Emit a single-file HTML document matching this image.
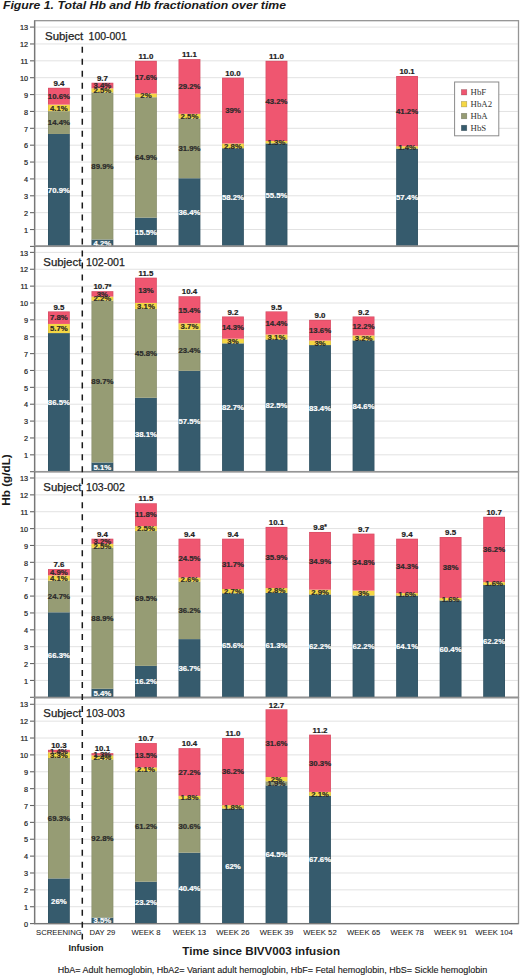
<!DOCTYPE html><html><head><meta charset="utf-8"><style>html,body{margin:0;padding:0;background:#fff;}svg{display:block}</style></head><body>
<svg width="520" height="975" viewBox="0 0 520 975" font-family="Liberation Sans, sans-serif">
<rect x="0" y="0" width="520" height="975" fill="#ffffff"/>
<text x="3" y="9.3" font-size="11" font-weight="bold" font-style="italic" fill="#1a1a1a" textLength="283" lengthAdjust="spacingAndGlyphs">Figure 1. Total Hb and Hb fractionation over time</text>
<line x1="35.3" y1="229.53" x2="517.8" y2="229.53" stroke="#e2e2e2" stroke-width="1"/>
<line x1="35.3" y1="212.66" x2="517.8" y2="212.66" stroke="#e2e2e2" stroke-width="1"/>
<line x1="35.3" y1="195.79" x2="517.8" y2="195.79" stroke="#e2e2e2" stroke-width="1"/>
<line x1="35.3" y1="178.92" x2="517.8" y2="178.92" stroke="#e2e2e2" stroke-width="1"/>
<line x1="35.3" y1="162.05" x2="517.8" y2="162.05" stroke="#e2e2e2" stroke-width="1"/>
<line x1="35.3" y1="145.18" x2="517.8" y2="145.18" stroke="#e2e2e2" stroke-width="1"/>
<line x1="35.3" y1="128.31" x2="517.8" y2="128.31" stroke="#e2e2e2" stroke-width="1"/>
<line x1="35.3" y1="111.44" x2="517.8" y2="111.44" stroke="#e2e2e2" stroke-width="1"/>
<line x1="35.3" y1="94.57" x2="517.8" y2="94.57" stroke="#e2e2e2" stroke-width="1"/>
<line x1="35.3" y1="77.7" x2="517.8" y2="77.7" stroke="#e2e2e2" stroke-width="1"/>
<line x1="35.3" y1="60.83" x2="517.8" y2="60.83" stroke="#e2e2e2" stroke-width="1"/>
<line x1="35.3" y1="43.96" x2="517.8" y2="43.96" stroke="#e2e2e2" stroke-width="1"/>
<line x1="35.3" y1="27.09" x2="517.8" y2="27.09" stroke="#e2e2e2" stroke-width="1"/>
<rect x="34.6" y="20.68" width="483.9" height="225.72" fill="none" stroke="#959595" stroke-width="1.3"/>
<line x1="30" y1="246.4" x2="34.6" y2="246.4" stroke="#666" stroke-width="1.1"/>
<line x1="30" y1="229.53" x2="34.6" y2="229.53" stroke="#666" stroke-width="1.1"/>
<text x="28" y="232.73" font-size="7.3" text-anchor="end" fill="#222" stroke="#222" stroke-width="0.2">1</text>
<line x1="30" y1="212.66" x2="34.6" y2="212.66" stroke="#666" stroke-width="1.1"/>
<text x="28" y="215.86" font-size="7.3" text-anchor="end" fill="#222" stroke="#222" stroke-width="0.2">2</text>
<line x1="30" y1="195.79" x2="34.6" y2="195.79" stroke="#666" stroke-width="1.1"/>
<text x="28" y="198.99" font-size="7.3" text-anchor="end" fill="#222" stroke="#222" stroke-width="0.2">3</text>
<line x1="30" y1="178.92" x2="34.6" y2="178.92" stroke="#666" stroke-width="1.1"/>
<text x="28" y="182.12" font-size="7.3" text-anchor="end" fill="#222" stroke="#222" stroke-width="0.2">4</text>
<line x1="30" y1="162.05" x2="34.6" y2="162.05" stroke="#666" stroke-width="1.1"/>
<text x="28" y="165.25" font-size="7.3" text-anchor="end" fill="#222" stroke="#222" stroke-width="0.2">5</text>
<line x1="30" y1="145.18" x2="34.6" y2="145.18" stroke="#666" stroke-width="1.1"/>
<text x="28" y="148.38" font-size="7.3" text-anchor="end" fill="#222" stroke="#222" stroke-width="0.2">6</text>
<line x1="30" y1="128.31" x2="34.6" y2="128.31" stroke="#666" stroke-width="1.1"/>
<text x="28" y="131.51" font-size="7.3" text-anchor="end" fill="#222" stroke="#222" stroke-width="0.2">7</text>
<line x1="30" y1="111.44" x2="34.6" y2="111.44" stroke="#666" stroke-width="1.1"/>
<text x="28" y="114.64" font-size="7.3" text-anchor="end" fill="#222" stroke="#222" stroke-width="0.2">8</text>
<line x1="30" y1="94.57" x2="34.6" y2="94.57" stroke="#666" stroke-width="1.1"/>
<text x="28" y="97.77" font-size="7.3" text-anchor="end" fill="#222" stroke="#222" stroke-width="0.2">9</text>
<line x1="30" y1="77.7" x2="34.6" y2="77.7" stroke="#666" stroke-width="1.1"/>
<text x="28" y="80.9" font-size="7.3" text-anchor="end" fill="#222" stroke="#222" stroke-width="0.2">10</text>
<line x1="30" y1="60.83" x2="34.6" y2="60.83" stroke="#666" stroke-width="1.1"/>
<text x="28" y="64.03" font-size="7.3" text-anchor="end" fill="#222" stroke="#222" stroke-width="0.2">11</text>
<line x1="30" y1="43.96" x2="34.6" y2="43.96" stroke="#666" stroke-width="1.1"/>
<text x="28" y="47.16" font-size="7.3" text-anchor="end" fill="#222" stroke="#222" stroke-width="0.2">12</text>
<line x1="30" y1="27.09" x2="34.6" y2="27.09" stroke="#666" stroke-width="1.1"/>
<text x="28" y="30.29" font-size="7.3" text-anchor="end" fill="#222" stroke="#222" stroke-width="0.2">13</text>
<text x="45.0" y="40.2" font-size="11.4" fill="#222" stroke="#222" stroke-width="0.25" textLength="38.2" lengthAdjust="spacingAndGlyphs">Subject</text>
<text x="88.6" y="40.2" font-size="11.4" fill="#222" stroke="#222" stroke-width="0.25" textLength="38.3" lengthAdjust="spacingAndGlyphs">100-001</text>
<rect x="48" y="133.97" width="21.8" height="112.43" fill="#365b6d"/>
<rect x="48" y="111.13" width="21.8" height="22.84" fill="#969c74"/>
<rect x="48" y="104.63" width="21.8" height="6.5" fill="#f5d744"/>
<rect x="48" y="87.82" width="21.8" height="16.81" fill="#ef5670"/>
<rect x="48.3" y="88.12" width="21.2" height="158.28" fill="none" stroke="rgba(0,0,0,0.12)" stroke-width="0.6"/>
<text x="58.9" y="86.02" font-size="7.9" font-weight="bold" text-anchor="middle" fill="#1a1a1a" stroke="#1a1a1a" stroke-width="0.2">9.4</text>
<rect x="91.52" y="239.53" width="21.8" height="6.87" fill="#365b6d"/>
<rect x="91.52" y="92.42" width="21.8" height="147.11" fill="#969c74"/>
<rect x="91.52" y="88.32" width="21.8" height="4.09" fill="#f5d744"/>
<rect x="91.52" y="82.76" width="21.8" height="5.56" fill="#ef5670"/>
<rect x="91.82" y="83.06" width="21.2" height="163.34" fill="none" stroke="rgba(0,0,0,0.12)" stroke-width="0.6"/>
<text x="102.42" y="80.96" font-size="7.9" font-weight="bold" text-anchor="middle" fill="#1a1a1a" stroke="#1a1a1a" stroke-width="0.2">9.7</text>
<rect x="135.04" y="217.64" width="21.8" height="28.76" fill="#365b6d"/>
<rect x="135.04" y="97.2" width="21.8" height="120.43" fill="#969c74"/>
<rect x="135.04" y="93.49" width="21.8" height="3.71" fill="#f5d744"/>
<rect x="135.04" y="60.83" width="21.8" height="32.66" fill="#ef5670"/>
<rect x="135.34" y="61.13" width="21.2" height="185.27" fill="none" stroke="rgba(0,0,0,0.12)" stroke-width="0.6"/>
<text x="145.94" y="59.03" font-size="7.9" font-weight="bold" text-anchor="middle" fill="#1a1a1a" stroke="#1a1a1a" stroke-width="0.2">11.0</text>
<rect x="178.56" y="178.24" width="21.8" height="68.16" fill="#365b6d"/>
<rect x="178.56" y="118.5" width="21.8" height="59.73" fill="#969c74"/>
<rect x="178.56" y="113.82" width="21.8" height="4.68" fill="#f5d744"/>
<rect x="178.56" y="59.14" width="21.8" height="54.68" fill="#ef5670"/>
<rect x="178.86" y="59.44" width="21.2" height="186.96" fill="none" stroke="rgba(0,0,0,0.12)" stroke-width="0.6"/>
<text x="189.46" y="57.34" font-size="7.9" font-weight="bold" text-anchor="middle" fill="#1a1a1a" stroke="#1a1a1a" stroke-width="0.2">11.1</text>
<rect x="222.08" y="148.22" width="21.8" height="98.18" fill="#365b6d"/>
<rect x="222.08" y="143.49" width="21.8" height="4.72" fill="#f5d744"/>
<rect x="222.08" y="77.7" width="21.8" height="65.79" fill="#ef5670"/>
<rect x="222.38" y="78" width="21.2" height="168.4" fill="none" stroke="rgba(0,0,0,0.12)" stroke-width="0.6"/>
<text x="232.98" y="75.9" font-size="7.9" font-weight="bold" text-anchor="middle" fill="#1a1a1a" stroke="#1a1a1a" stroke-width="0.2">10.0</text>
<rect x="265.6" y="143.41" width="21.8" height="102.99" fill="#365b6d"/>
<rect x="265.6" y="141" width="21.8" height="2.41" fill="#f5d744"/>
<rect x="265.6" y="60.83" width="21.8" height="80.17" fill="#ef5670"/>
<rect x="265.9" y="61.13" width="21.2" height="185.27" fill="none" stroke="rgba(0,0,0,0.12)" stroke-width="0.6"/>
<text x="276.5" y="59.03" font-size="7.9" font-weight="bold" text-anchor="middle" fill="#1a1a1a" stroke="#1a1a1a" stroke-width="0.2">11.0</text>
<rect x="396.16" y="148.6" width="21.8" height="97.8" fill="#365b6d"/>
<rect x="396.16" y="146.21" width="21.8" height="2.39" fill="#f5d744"/>
<rect x="396.16" y="76.01" width="21.8" height="70.2" fill="#ef5670"/>
<rect x="396.46" y="76.31" width="21.2" height="170.09" fill="none" stroke="rgba(0,0,0,0.12)" stroke-width="0.6"/>
<text x="407.06" y="74.21" font-size="7.9" font-weight="bold" text-anchor="middle" fill="#1a1a1a" stroke="#1a1a1a" stroke-width="0.2">10.1</text>
<line x1="34.6" y1="20.68" x2="34.6" y2="247" stroke="#777" stroke-width="1.3"/>
<line x1="34.6" y1="246.4" x2="518.5" y2="246.4" stroke="#8a8a8a" stroke-width="1.1"/>
<text x="58.9" y="192.93" font-size="7.8" font-weight="bold" text-anchor="middle" fill="#ffffff" stroke="#ffffff" stroke-width="0.2">70.9%</text>
<text x="58.9" y="125.3" font-size="7.8" font-weight="bold" text-anchor="middle" fill="#2a2a2a" stroke="#2a2a2a" stroke-width="0.2">14.4%</text>
<text x="58.9" y="110.63" font-size="7.8" font-weight="bold" text-anchor="middle" fill="#2a2a2a" stroke="#2a2a2a" stroke-width="0.2">4.1%</text>
<text x="58.9" y="98.98" font-size="7.8" font-weight="bold" text-anchor="middle" fill="#2a2a2a" stroke="#2a2a2a" stroke-width="0.2">10.6%</text>
<text x="102.42" y="245.71" font-size="7.8" font-weight="bold" text-anchor="middle" fill="#ffffff" stroke="#ffffff" stroke-width="0.2">4.2%</text>
<text x="102.42" y="168.72" font-size="7.8" font-weight="bold" text-anchor="middle" fill="#2a2a2a" stroke="#2a2a2a" stroke-width="0.2">89.9%</text>
<text x="102.42" y="93.12" font-size="7.8" font-weight="bold" text-anchor="middle" fill="#2a2a2a" stroke="#2a2a2a" stroke-width="0.2">2.5%</text>
<text x="102.42" y="88.29" font-size="7.8" font-weight="bold" text-anchor="middle" fill="#2a2a2a" stroke="#2a2a2a" stroke-width="0.2">3.4%</text>
<text x="145.94" y="234.77" font-size="7.8" font-weight="bold" text-anchor="middle" fill="#ffffff" stroke="#ffffff" stroke-width="0.2">15.5%</text>
<text x="145.94" y="160.17" font-size="7.8" font-weight="bold" text-anchor="middle" fill="#2a2a2a" stroke="#2a2a2a" stroke-width="0.2">64.9%</text>
<text x="145.94" y="98.1" font-size="7.8" font-weight="bold" text-anchor="middle" fill="#2a2a2a" stroke="#2a2a2a" stroke-width="0.2">2%</text>
<text x="145.94" y="79.91" font-size="7.8" font-weight="bold" text-anchor="middle" fill="#2a2a2a" stroke="#2a2a2a" stroke-width="0.2">17.6%</text>
<text x="189.46" y="215.07" font-size="7.8" font-weight="bold" text-anchor="middle" fill="#ffffff" stroke="#ffffff" stroke-width="0.2">36.4%</text>
<text x="189.46" y="151.12" font-size="7.8" font-weight="bold" text-anchor="middle" fill="#2a2a2a" stroke="#2a2a2a" stroke-width="0.2">31.9%</text>
<text x="189.46" y="118.91" font-size="7.8" font-weight="bold" text-anchor="middle" fill="#2a2a2a" stroke="#2a2a2a" stroke-width="0.2">2.5%</text>
<text x="189.46" y="89.23" font-size="7.8" font-weight="bold" text-anchor="middle" fill="#2a2a2a" stroke="#2a2a2a" stroke-width="0.2">29.2%</text>
<text x="232.98" y="200.06" font-size="7.8" font-weight="bold" text-anchor="middle" fill="#ffffff" stroke="#ffffff" stroke-width="0.2">58.2%</text>
<text x="232.98" y="148.6" font-size="7.8" font-weight="bold" text-anchor="middle" fill="#2a2a2a" stroke="#2a2a2a" stroke-width="0.2">2.8%</text>
<text x="232.98" y="113.35" font-size="7.8" font-weight="bold" text-anchor="middle" fill="#2a2a2a" stroke="#2a2a2a" stroke-width="0.2">39%</text>
<text x="276.5" y="197.65" font-size="7.8" font-weight="bold" text-anchor="middle" fill="#ffffff" stroke="#ffffff" stroke-width="0.2">55.5%</text>
<text x="276.5" y="144.95" font-size="7.8" font-weight="bold" text-anchor="middle" fill="#2a2a2a" stroke="#2a2a2a" stroke-width="0.2">1.3%</text>
<text x="276.5" y="103.66" font-size="7.8" font-weight="bold" text-anchor="middle" fill="#2a2a2a" stroke="#2a2a2a" stroke-width="0.2">43.2%</text>
<text x="407.06" y="200.25" font-size="7.8" font-weight="bold" text-anchor="middle" fill="#ffffff" stroke="#ffffff" stroke-width="0.2">57.4%</text>
<text x="407.06" y="150.16" font-size="7.8" font-weight="bold" text-anchor="middle" fill="#2a2a2a" stroke="#2a2a2a" stroke-width="0.2">1.4%</text>
<text x="407.06" y="113.86" font-size="7.8" font-weight="bold" text-anchor="middle" fill="#2a2a2a" stroke="#2a2a2a" stroke-width="0.2">41.2%</text>
<line x1="35.3" y1="454.83" x2="517.8" y2="454.83" stroke="#e2e2e2" stroke-width="1"/>
<line x1="35.3" y1="437.96" x2="517.8" y2="437.96" stroke="#e2e2e2" stroke-width="1"/>
<line x1="35.3" y1="421.09" x2="517.8" y2="421.09" stroke="#e2e2e2" stroke-width="1"/>
<line x1="35.3" y1="404.22" x2="517.8" y2="404.22" stroke="#e2e2e2" stroke-width="1"/>
<line x1="35.3" y1="387.35" x2="517.8" y2="387.35" stroke="#e2e2e2" stroke-width="1"/>
<line x1="35.3" y1="370.48" x2="517.8" y2="370.48" stroke="#e2e2e2" stroke-width="1"/>
<line x1="35.3" y1="353.61" x2="517.8" y2="353.61" stroke="#e2e2e2" stroke-width="1"/>
<line x1="35.3" y1="336.74" x2="517.8" y2="336.74" stroke="#e2e2e2" stroke-width="1"/>
<line x1="35.3" y1="319.87" x2="517.8" y2="319.87" stroke="#e2e2e2" stroke-width="1"/>
<line x1="35.3" y1="303" x2="517.8" y2="303" stroke="#e2e2e2" stroke-width="1"/>
<line x1="35.3" y1="286.13" x2="517.8" y2="286.13" stroke="#e2e2e2" stroke-width="1"/>
<line x1="35.3" y1="269.26" x2="517.8" y2="269.26" stroke="#e2e2e2" stroke-width="1"/>
<line x1="35.3" y1="252.39" x2="517.8" y2="252.39" stroke="#e2e2e2" stroke-width="1"/>
<rect x="34.6" y="245.98" width="483.9" height="225.72" fill="none" stroke="#959595" stroke-width="1.3"/>
<line x1="30" y1="471.7" x2="34.6" y2="471.7" stroke="#666" stroke-width="1.1"/>
<line x1="30" y1="454.83" x2="34.6" y2="454.83" stroke="#666" stroke-width="1.1"/>
<text x="28" y="458.03" font-size="7.3" text-anchor="end" fill="#222" stroke="#222" stroke-width="0.2">1</text>
<line x1="30" y1="437.96" x2="34.6" y2="437.96" stroke="#666" stroke-width="1.1"/>
<text x="28" y="441.16" font-size="7.3" text-anchor="end" fill="#222" stroke="#222" stroke-width="0.2">2</text>
<line x1="30" y1="421.09" x2="34.6" y2="421.09" stroke="#666" stroke-width="1.1"/>
<text x="28" y="424.29" font-size="7.3" text-anchor="end" fill="#222" stroke="#222" stroke-width="0.2">3</text>
<line x1="30" y1="404.22" x2="34.6" y2="404.22" stroke="#666" stroke-width="1.1"/>
<text x="28" y="407.42" font-size="7.3" text-anchor="end" fill="#222" stroke="#222" stroke-width="0.2">4</text>
<line x1="30" y1="387.35" x2="34.6" y2="387.35" stroke="#666" stroke-width="1.1"/>
<text x="28" y="390.55" font-size="7.3" text-anchor="end" fill="#222" stroke="#222" stroke-width="0.2">5</text>
<line x1="30" y1="370.48" x2="34.6" y2="370.48" stroke="#666" stroke-width="1.1"/>
<text x="28" y="373.68" font-size="7.3" text-anchor="end" fill="#222" stroke="#222" stroke-width="0.2">6</text>
<line x1="30" y1="353.61" x2="34.6" y2="353.61" stroke="#666" stroke-width="1.1"/>
<text x="28" y="356.81" font-size="7.3" text-anchor="end" fill="#222" stroke="#222" stroke-width="0.2">7</text>
<line x1="30" y1="336.74" x2="34.6" y2="336.74" stroke="#666" stroke-width="1.1"/>
<text x="28" y="339.94" font-size="7.3" text-anchor="end" fill="#222" stroke="#222" stroke-width="0.2">8</text>
<line x1="30" y1="319.87" x2="34.6" y2="319.87" stroke="#666" stroke-width="1.1"/>
<text x="28" y="323.07" font-size="7.3" text-anchor="end" fill="#222" stroke="#222" stroke-width="0.2">9</text>
<line x1="30" y1="303" x2="34.6" y2="303" stroke="#666" stroke-width="1.1"/>
<text x="28" y="306.2" font-size="7.3" text-anchor="end" fill="#222" stroke="#222" stroke-width="0.2">10</text>
<line x1="30" y1="286.13" x2="34.6" y2="286.13" stroke="#666" stroke-width="1.1"/>
<text x="28" y="289.33" font-size="7.3" text-anchor="end" fill="#222" stroke="#222" stroke-width="0.2">11</text>
<line x1="30" y1="269.26" x2="34.6" y2="269.26" stroke="#666" stroke-width="1.1"/>
<text x="28" y="272.46" font-size="7.3" text-anchor="end" fill="#222" stroke="#222" stroke-width="0.2">12</text>
<line x1="30" y1="252.39" x2="34.6" y2="252.39" stroke="#666" stroke-width="1.1"/>
<text x="28" y="255.59" font-size="7.3" text-anchor="end" fill="#222" stroke="#222" stroke-width="0.2">13</text>
<text x="43.3" y="265.5" font-size="11.4" fill="#222" stroke="#222" stroke-width="0.25" textLength="38.0" lengthAdjust="spacingAndGlyphs">Subject</text>
<text x="86.0" y="265.5" font-size="11.4" fill="#222" stroke="#222" stroke-width="0.25" textLength="38.9" lengthAdjust="spacingAndGlyphs">102-001</text>
<rect x="48" y="333.07" width="21.8" height="138.63" fill="#365b6d"/>
<rect x="48" y="323.94" width="21.8" height="9.14" fill="#f5d744"/>
<rect x="48" y="311.44" width="21.8" height="12.5" fill="#ef5670"/>
<rect x="48.3" y="311.74" width="21.2" height="159.96" fill="none" stroke="rgba(0,0,0,0.12)" stroke-width="0.6"/>
<text x="58.9" y="309.63" font-size="7.9" font-weight="bold" text-anchor="middle" fill="#1a1a1a" stroke="#1a1a1a" stroke-width="0.2">9.5</text>
<rect x="91.52" y="462.49" width="21.8" height="9.21" fill="#365b6d"/>
<rect x="91.52" y="300.58" width="21.8" height="161.92" fill="#969c74"/>
<rect x="91.52" y="296.61" width="21.8" height="3.97" fill="#f5d744"/>
<rect x="91.52" y="291.19" width="21.8" height="5.42" fill="#ef5670"/>
<rect x="91.82" y="291.49" width="21.2" height="180.21" fill="none" stroke="rgba(0,0,0,0.12)" stroke-width="0.6"/>
<text x="102.42" y="289.39" font-size="7.9" font-weight="bold" text-anchor="middle" fill="#1a1a1a" stroke="#1a1a1a" stroke-width="0.2">10.7<tspan font-size="6.5" dy="-0.8">*</tspan></text>
<rect x="135.04" y="397.78" width="21.8" height="73.92" fill="#365b6d"/>
<rect x="135.04" y="308.93" width="21.8" height="88.85" fill="#969c74"/>
<rect x="135.04" y="302.92" width="21.8" height="6.01" fill="#f5d744"/>
<rect x="135.04" y="277.69" width="21.8" height="25.22" fill="#ef5670"/>
<rect x="135.34" y="277.99" width="21.2" height="193.71" fill="none" stroke="rgba(0,0,0,0.12)" stroke-width="0.6"/>
<text x="145.94" y="275.89" font-size="7.9" font-weight="bold" text-anchor="middle" fill="#1a1a1a" stroke="#1a1a1a" stroke-width="0.2">11.5</text>
<rect x="178.56" y="370.82" width="21.8" height="100.88" fill="#365b6d"/>
<rect x="178.56" y="329.76" width="21.8" height="41.05" fill="#969c74"/>
<rect x="178.56" y="323.27" width="21.8" height="6.49" fill="#f5d744"/>
<rect x="178.56" y="296.25" width="21.8" height="27.02" fill="#ef5670"/>
<rect x="178.86" y="296.55" width="21.2" height="175.15" fill="none" stroke="rgba(0,0,0,0.12)" stroke-width="0.6"/>
<text x="189.46" y="294.45" font-size="7.9" font-weight="bold" text-anchor="middle" fill="#1a1a1a" stroke="#1a1a1a" stroke-width="0.2">10.4</text>
<rect x="222.08" y="343.35" width="21.8" height="128.35" fill="#365b6d"/>
<rect x="222.08" y="338.69" width="21.8" height="4.66" fill="#f5d744"/>
<rect x="222.08" y="316.5" width="21.8" height="22.19" fill="#ef5670"/>
<rect x="222.38" y="316.8" width="21.2" height="154.9" fill="none" stroke="rgba(0,0,0,0.12)" stroke-width="0.6"/>
<text x="232.98" y="314.7" font-size="7.9" font-weight="bold" text-anchor="middle" fill="#1a1a1a" stroke="#1a1a1a" stroke-width="0.2">9.2</text>
<rect x="265.6" y="339.48" width="21.8" height="132.22" fill="#365b6d"/>
<rect x="265.6" y="334.51" width="21.8" height="4.97" fill="#f5d744"/>
<rect x="265.6" y="311.43" width="21.8" height="23.08" fill="#ef5670"/>
<rect x="265.9" y="311.73" width="21.2" height="159.97" fill="none" stroke="rgba(0,0,0,0.12)" stroke-width="0.6"/>
<text x="276.5" y="309.63" font-size="7.9" font-weight="bold" text-anchor="middle" fill="#1a1a1a" stroke="#1a1a1a" stroke-width="0.2">9.5</text>
<rect x="309.12" y="345.07" width="21.8" height="126.63" fill="#365b6d"/>
<rect x="309.12" y="340.52" width="21.8" height="4.55" fill="#f5d744"/>
<rect x="309.12" y="319.87" width="21.8" height="20.65" fill="#ef5670"/>
<rect x="309.42" y="320.17" width="21.2" height="151.53" fill="none" stroke="rgba(0,0,0,0.12)" stroke-width="0.6"/>
<text x="320.02" y="318.07" font-size="7.9" font-weight="bold" text-anchor="middle" fill="#1a1a1a" stroke="#1a1a1a" stroke-width="0.2">9.0</text>
<rect x="352.64" y="340.4" width="21.8" height="131.3" fill="#365b6d"/>
<rect x="352.64" y="335.43" width="21.8" height="4.97" fill="#f5d744"/>
<rect x="352.64" y="316.5" width="21.8" height="18.93" fill="#ef5670"/>
<rect x="352.94" y="316.8" width="21.2" height="154.9" fill="none" stroke="rgba(0,0,0,0.12)" stroke-width="0.6"/>
<text x="363.54" y="314.7" font-size="7.9" font-weight="bold" text-anchor="middle" fill="#1a1a1a" stroke="#1a1a1a" stroke-width="0.2">9.2</text>
<line x1="34.6" y1="245.98" x2="34.6" y2="472.3" stroke="#777" stroke-width="1.3"/>
<line x1="34.6" y1="471.7" x2="518.5" y2="471.7" stroke="#8a8a8a" stroke-width="1.1"/>
<text x="58.9" y="405.14" font-size="7.8" font-weight="bold" text-anchor="middle" fill="#ffffff" stroke="#ffffff" stroke-width="0.2">86.5%</text>
<text x="58.9" y="331.25" font-size="7.8" font-weight="bold" text-anchor="middle" fill="#2a2a2a" stroke="#2a2a2a" stroke-width="0.2">5.7%</text>
<text x="58.9" y="320.44" font-size="7.8" font-weight="bold" text-anchor="middle" fill="#2a2a2a" stroke="#2a2a2a" stroke-width="0.2">7.8%</text>
<text x="102.42" y="469.85" font-size="7.8" font-weight="bold" text-anchor="middle" fill="#ffffff" stroke="#ffffff" stroke-width="0.2">5.1%</text>
<text x="102.42" y="384.29" font-size="7.8" font-weight="bold" text-anchor="middle" fill="#2a2a2a" stroke="#2a2a2a" stroke-width="0.2">89.7%</text>
<text x="102.42" y="301.34" font-size="7.8" font-weight="bold" text-anchor="middle" fill="#2a2a2a" stroke="#2a2a2a" stroke-width="0.2">2.2%</text>
<text x="102.42" y="296.65" font-size="7.8" font-weight="bold" text-anchor="middle" fill="#2a2a2a" stroke="#2a2a2a" stroke-width="0.2">3%</text>
<text x="145.94" y="437.49" font-size="7.8" font-weight="bold" text-anchor="middle" fill="#ffffff" stroke="#ffffff" stroke-width="0.2">38.1%</text>
<text x="145.94" y="356.11" font-size="7.8" font-weight="bold" text-anchor="middle" fill="#2a2a2a" stroke="#2a2a2a" stroke-width="0.2">45.8%</text>
<text x="145.94" y="308.67" font-size="7.8" font-weight="bold" text-anchor="middle" fill="#2a2a2a" stroke="#2a2a2a" stroke-width="0.2">3.1%</text>
<text x="145.94" y="293.06" font-size="7.8" font-weight="bold" text-anchor="middle" fill="#2a2a2a" stroke="#2a2a2a" stroke-width="0.2">13%</text>
<text x="189.46" y="424.01" font-size="7.8" font-weight="bold" text-anchor="middle" fill="#ffffff" stroke="#ffffff" stroke-width="0.2">57.5%</text>
<text x="189.46" y="353.04" font-size="7.8" font-weight="bold" text-anchor="middle" fill="#2a2a2a" stroke="#2a2a2a" stroke-width="0.2">23.4%</text>
<text x="189.46" y="329.27" font-size="7.8" font-weight="bold" text-anchor="middle" fill="#2a2a2a" stroke="#2a2a2a" stroke-width="0.2">3.7%</text>
<text x="189.46" y="312.51" font-size="7.8" font-weight="bold" text-anchor="middle" fill="#2a2a2a" stroke="#2a2a2a" stroke-width="0.2">15.4%</text>
<text x="232.98" y="410.27" font-size="7.8" font-weight="bold" text-anchor="middle" fill="#ffffff" stroke="#ffffff" stroke-width="0.2">82.7%</text>
<text x="232.98" y="343.77" font-size="7.8" font-weight="bold" text-anchor="middle" fill="#2a2a2a" stroke="#2a2a2a" stroke-width="0.2">3%</text>
<text x="232.98" y="330.34" font-size="7.8" font-weight="bold" text-anchor="middle" fill="#2a2a2a" stroke="#2a2a2a" stroke-width="0.2">14.3%</text>
<text x="276.5" y="408.34" font-size="7.8" font-weight="bold" text-anchor="middle" fill="#ffffff" stroke="#ffffff" stroke-width="0.2">82.5%</text>
<text x="276.5" y="339.75" font-size="7.8" font-weight="bold" text-anchor="middle" fill="#2a2a2a" stroke="#2a2a2a" stroke-width="0.2">3.1%</text>
<text x="276.5" y="325.72" font-size="7.8" font-weight="bold" text-anchor="middle" fill="#2a2a2a" stroke="#2a2a2a" stroke-width="0.2">14.4%</text>
<text x="320.02" y="411.14" font-size="7.8" font-weight="bold" text-anchor="middle" fill="#ffffff" stroke="#ffffff" stroke-width="0.2">83.4%</text>
<text x="320.02" y="345.55" font-size="7.8" font-weight="bold" text-anchor="middle" fill="#2a2a2a" stroke="#2a2a2a" stroke-width="0.2">3%</text>
<text x="320.02" y="332.94" font-size="7.8" font-weight="bold" text-anchor="middle" fill="#2a2a2a" stroke="#2a2a2a" stroke-width="0.2">13.6%</text>
<text x="363.54" y="408.8" font-size="7.8" font-weight="bold" text-anchor="middle" fill="#ffffff" stroke="#ffffff" stroke-width="0.2">84.6%</text>
<text x="363.54" y="340.66" font-size="7.8" font-weight="bold" text-anchor="middle" fill="#2a2a2a" stroke="#2a2a2a" stroke-width="0.2">3.2%</text>
<text x="363.54" y="328.71" font-size="7.8" font-weight="bold" text-anchor="middle" fill="#2a2a2a" stroke="#2a2a2a" stroke-width="0.2">12.2%</text>
<line x1="35.3" y1="680.43" x2="517.8" y2="680.43" stroke="#e2e2e2" stroke-width="1"/>
<line x1="35.3" y1="663.56" x2="517.8" y2="663.56" stroke="#e2e2e2" stroke-width="1"/>
<line x1="35.3" y1="646.69" x2="517.8" y2="646.69" stroke="#e2e2e2" stroke-width="1"/>
<line x1="35.3" y1="629.82" x2="517.8" y2="629.82" stroke="#e2e2e2" stroke-width="1"/>
<line x1="35.3" y1="612.95" x2="517.8" y2="612.95" stroke="#e2e2e2" stroke-width="1"/>
<line x1="35.3" y1="596.08" x2="517.8" y2="596.08" stroke="#e2e2e2" stroke-width="1"/>
<line x1="35.3" y1="579.21" x2="517.8" y2="579.21" stroke="#e2e2e2" stroke-width="1"/>
<line x1="35.3" y1="562.34" x2="517.8" y2="562.34" stroke="#e2e2e2" stroke-width="1"/>
<line x1="35.3" y1="545.47" x2="517.8" y2="545.47" stroke="#e2e2e2" stroke-width="1"/>
<line x1="35.3" y1="528.6" x2="517.8" y2="528.6" stroke="#e2e2e2" stroke-width="1"/>
<line x1="35.3" y1="511.73" x2="517.8" y2="511.73" stroke="#e2e2e2" stroke-width="1"/>
<line x1="35.3" y1="494.86" x2="517.8" y2="494.86" stroke="#e2e2e2" stroke-width="1"/>
<line x1="35.3" y1="477.99" x2="517.8" y2="477.99" stroke="#e2e2e2" stroke-width="1"/>
<rect x="34.6" y="471.58" width="483.9" height="225.72" fill="none" stroke="#959595" stroke-width="1.3"/>
<line x1="30" y1="697.3" x2="34.6" y2="697.3" stroke="#666" stroke-width="1.1"/>
<line x1="30" y1="680.43" x2="34.6" y2="680.43" stroke="#666" stroke-width="1.1"/>
<text x="28" y="683.63" font-size="7.3" text-anchor="end" fill="#222" stroke="#222" stroke-width="0.2">1</text>
<line x1="30" y1="663.56" x2="34.6" y2="663.56" stroke="#666" stroke-width="1.1"/>
<text x="28" y="666.76" font-size="7.3" text-anchor="end" fill="#222" stroke="#222" stroke-width="0.2">2</text>
<line x1="30" y1="646.69" x2="34.6" y2="646.69" stroke="#666" stroke-width="1.1"/>
<text x="28" y="649.89" font-size="7.3" text-anchor="end" fill="#222" stroke="#222" stroke-width="0.2">3</text>
<line x1="30" y1="629.82" x2="34.6" y2="629.82" stroke="#666" stroke-width="1.1"/>
<text x="28" y="633.02" font-size="7.3" text-anchor="end" fill="#222" stroke="#222" stroke-width="0.2">4</text>
<line x1="30" y1="612.95" x2="34.6" y2="612.95" stroke="#666" stroke-width="1.1"/>
<text x="28" y="616.15" font-size="7.3" text-anchor="end" fill="#222" stroke="#222" stroke-width="0.2">5</text>
<line x1="30" y1="596.08" x2="34.6" y2="596.08" stroke="#666" stroke-width="1.1"/>
<text x="28" y="599.28" font-size="7.3" text-anchor="end" fill="#222" stroke="#222" stroke-width="0.2">6</text>
<line x1="30" y1="579.21" x2="34.6" y2="579.21" stroke="#666" stroke-width="1.1"/>
<text x="28" y="582.41" font-size="7.3" text-anchor="end" fill="#222" stroke="#222" stroke-width="0.2">7</text>
<line x1="30" y1="562.34" x2="34.6" y2="562.34" stroke="#666" stroke-width="1.1"/>
<text x="28" y="565.54" font-size="7.3" text-anchor="end" fill="#222" stroke="#222" stroke-width="0.2">8</text>
<line x1="30" y1="545.47" x2="34.6" y2="545.47" stroke="#666" stroke-width="1.1"/>
<text x="28" y="548.67" font-size="7.3" text-anchor="end" fill="#222" stroke="#222" stroke-width="0.2">9</text>
<line x1="30" y1="528.6" x2="34.6" y2="528.6" stroke="#666" stroke-width="1.1"/>
<text x="28" y="531.8" font-size="7.3" text-anchor="end" fill="#222" stroke="#222" stroke-width="0.2">10</text>
<line x1="30" y1="511.73" x2="34.6" y2="511.73" stroke="#666" stroke-width="1.1"/>
<text x="28" y="514.93" font-size="7.3" text-anchor="end" fill="#222" stroke="#222" stroke-width="0.2">11</text>
<line x1="30" y1="494.86" x2="34.6" y2="494.86" stroke="#666" stroke-width="1.1"/>
<text x="28" y="498.06" font-size="7.3" text-anchor="end" fill="#222" stroke="#222" stroke-width="0.2">12</text>
<line x1="30" y1="477.99" x2="34.6" y2="477.99" stroke="#666" stroke-width="1.1"/>
<text x="28" y="481.19" font-size="7.3" text-anchor="end" fill="#222" stroke="#222" stroke-width="0.2">13</text>
<text x="43.3" y="491.1" font-size="11.4" fill="#222" stroke="#222" stroke-width="0.25" textLength="38.0" lengthAdjust="spacingAndGlyphs">Subject</text>
<text x="86.0" y="491.1" font-size="11.4" fill="#222" stroke="#222" stroke-width="0.25" textLength="38.9" lengthAdjust="spacingAndGlyphs">103-002</text>
<rect x="48" y="612.3" width="21.8" height="85" fill="#365b6d"/>
<rect x="48" y="580.63" width="21.8" height="31.67" fill="#969c74"/>
<rect x="48" y="575.37" width="21.8" height="5.26" fill="#f5d744"/>
<rect x="48" y="569.09" width="21.8" height="6.28" fill="#ef5670"/>
<rect x="48.3" y="569.39" width="21.2" height="127.91" fill="none" stroke="rgba(0,0,0,0.12)" stroke-width="0.6"/>
<text x="58.9" y="567.29" font-size="7.9" font-weight="bold" text-anchor="middle" fill="#1a1a1a" stroke="#1a1a1a" stroke-width="0.2">7.6</text>
<rect x="91.52" y="688.74" width="21.8" height="8.56" fill="#365b6d"/>
<rect x="91.52" y="547.76" width="21.8" height="140.98" fill="#969c74"/>
<rect x="91.52" y="543.8" width="21.8" height="3.96" fill="#f5d744"/>
<rect x="91.52" y="538.72" width="21.8" height="5.07" fill="#ef5670"/>
<rect x="91.82" y="539.02" width="21.2" height="158.28" fill="none" stroke="rgba(0,0,0,0.12)" stroke-width="0.6"/>
<text x="102.42" y="536.92" font-size="7.9" font-weight="bold" text-anchor="middle" fill="#1a1a1a" stroke="#1a1a1a" stroke-width="0.2">9.4</text>
<rect x="135.04" y="665.87" width="21.8" height="31.43" fill="#365b6d"/>
<rect x="135.04" y="531.04" width="21.8" height="134.83" fill="#969c74"/>
<rect x="135.04" y="526.19" width="21.8" height="4.85" fill="#f5d744"/>
<rect x="135.04" y="503.29" width="21.8" height="22.89" fill="#ef5670"/>
<rect x="135.34" y="503.59" width="21.2" height="193.7" fill="none" stroke="rgba(0,0,0,0.12)" stroke-width="0.6"/>
<text x="145.94" y="501.49" font-size="7.9" font-weight="bold" text-anchor="middle" fill="#1a1a1a" stroke="#1a1a1a" stroke-width="0.2">11.5</text>
<rect x="178.56" y="639.1" width="21.8" height="58.2" fill="#365b6d"/>
<rect x="178.56" y="581.7" width="21.8" height="57.41" fill="#969c74"/>
<rect x="178.56" y="577.57" width="21.8" height="4.12" fill="#f5d744"/>
<rect x="178.56" y="538.72" width="21.8" height="38.85" fill="#ef5670"/>
<rect x="178.86" y="539.02" width="21.2" height="158.28" fill="none" stroke="rgba(0,0,0,0.12)" stroke-width="0.6"/>
<text x="189.46" y="536.92" font-size="7.9" font-weight="bold" text-anchor="middle" fill="#1a1a1a" stroke="#1a1a1a" stroke-width="0.2">9.4</text>
<rect x="222.08" y="593.27" width="21.8" height="104.03" fill="#365b6d"/>
<rect x="222.08" y="588.99" width="21.8" height="4.28" fill="#f5d744"/>
<rect x="222.08" y="538.72" width="21.8" height="50.27" fill="#ef5670"/>
<rect x="222.38" y="539.02" width="21.2" height="158.28" fill="none" stroke="rgba(0,0,0,0.12)" stroke-width="0.6"/>
<text x="232.98" y="536.92" font-size="7.9" font-weight="bold" text-anchor="middle" fill="#1a1a1a" stroke="#1a1a1a" stroke-width="0.2">9.4</text>
<rect x="265.6" y="592.85" width="21.8" height="104.45" fill="#365b6d"/>
<rect x="265.6" y="588.08" width="21.8" height="4.77" fill="#f5d744"/>
<rect x="265.6" y="526.91" width="21.8" height="61.17" fill="#ef5670"/>
<rect x="265.9" y="527.21" width="21.2" height="170.09" fill="none" stroke="rgba(0,0,0,0.12)" stroke-width="0.6"/>
<text x="276.5" y="525.11" font-size="7.9" font-weight="bold" text-anchor="middle" fill="#1a1a1a" stroke="#1a1a1a" stroke-width="0.2">10.1</text>
<rect x="309.12" y="594.47" width="21.8" height="102.83" fill="#365b6d"/>
<rect x="309.12" y="589.67" width="21.8" height="4.79" fill="#f5d744"/>
<rect x="309.12" y="531.97" width="21.8" height="57.7" fill="#ef5670"/>
<rect x="309.42" y="532.27" width="21.2" height="165.03" fill="none" stroke="rgba(0,0,0,0.12)" stroke-width="0.6"/>
<text x="320.02" y="530.17" font-size="7.9" font-weight="bold" text-anchor="middle" fill="#1a1a1a" stroke="#1a1a1a" stroke-width="0.2">9.8<tspan font-size="6.5" dy="-0.8">*</tspan></text>
<rect x="352.64" y="595.52" width="21.8" height="101.78" fill="#365b6d"/>
<rect x="352.64" y="590.61" width="21.8" height="4.91" fill="#f5d744"/>
<rect x="352.64" y="533.66" width="21.8" height="56.95" fill="#ef5670"/>
<rect x="352.94" y="533.96" width="21.2" height="163.34" fill="none" stroke="rgba(0,0,0,0.12)" stroke-width="0.6"/>
<text x="363.54" y="531.86" font-size="7.9" font-weight="bold" text-anchor="middle" fill="#1a1a1a" stroke="#1a1a1a" stroke-width="0.2">9.7</text>
<rect x="396.16" y="595.65" width="21.8" height="101.65" fill="#365b6d"/>
<rect x="396.16" y="593.11" width="21.8" height="2.54" fill="#f5d744"/>
<rect x="396.16" y="538.72" width="21.8" height="54.39" fill="#ef5670"/>
<rect x="396.46" y="539.02" width="21.2" height="158.28" fill="none" stroke="rgba(0,0,0,0.12)" stroke-width="0.6"/>
<text x="407.06" y="536.92" font-size="7.9" font-weight="bold" text-anchor="middle" fill="#1a1a1a" stroke="#1a1a1a" stroke-width="0.2">9.4</text>
<rect x="439.68" y="600.5" width="21.8" height="96.8" fill="#365b6d"/>
<rect x="439.68" y="597.94" width="21.8" height="2.56" fill="#f5d744"/>
<rect x="439.68" y="537.03" width="21.8" height="60.9" fill="#ef5670"/>
<rect x="439.98" y="537.33" width="21.2" height="159.96" fill="none" stroke="rgba(0,0,0,0.12)" stroke-width="0.6"/>
<text x="450.58" y="535.24" font-size="7.9" font-weight="bold" text-anchor="middle" fill="#1a1a1a" stroke="#1a1a1a" stroke-width="0.2">9.5</text>
<rect x="483.2" y="585.02" width="21.8" height="112.28" fill="#365b6d"/>
<rect x="483.2" y="582.14" width="21.8" height="2.89" fill="#f5d744"/>
<rect x="483.2" y="516.79" width="21.8" height="65.34" fill="#ef5670"/>
<rect x="483.5" y="517.09" width="21.2" height="180.21" fill="none" stroke="rgba(0,0,0,0.12)" stroke-width="0.6"/>
<text x="494.1" y="514.99" font-size="7.9" font-weight="bold" text-anchor="middle" fill="#1a1a1a" stroke="#1a1a1a" stroke-width="0.2">10.7</text>
<line x1="34.6" y1="471.58" x2="34.6" y2="697.9" stroke="#777" stroke-width="1.3"/>
<line x1="34.6" y1="697.3" x2="518.5" y2="697.3" stroke="#8a8a8a" stroke-width="1.1"/>
<text x="58.9" y="657.55" font-size="7.8" font-weight="bold" text-anchor="middle" fill="#ffffff" stroke="#ffffff" stroke-width="0.2">66.3%</text>
<text x="58.9" y="599.21" font-size="7.8" font-weight="bold" text-anchor="middle" fill="#2a2a2a" stroke="#2a2a2a" stroke-width="0.2">24.7%</text>
<text x="58.9" y="580.75" font-size="7.8" font-weight="bold" text-anchor="middle" fill="#2a2a2a" stroke="#2a2a2a" stroke-width="0.2">4.1%</text>
<text x="58.9" y="574.98" font-size="7.8" font-weight="bold" text-anchor="middle" fill="#2a2a2a" stroke="#2a2a2a" stroke-width="0.2">4.9%</text>
<text x="102.42" y="695.77" font-size="7.8" font-weight="bold" text-anchor="middle" fill="#ffffff" stroke="#ffffff" stroke-width="0.2">5.4%</text>
<text x="102.42" y="621" font-size="7.8" font-weight="bold" text-anchor="middle" fill="#2a2a2a" stroke="#2a2a2a" stroke-width="0.2">88.9%</text>
<text x="102.42" y="548.53" font-size="7.8" font-weight="bold" text-anchor="middle" fill="#2a2a2a" stroke="#2a2a2a" stroke-width="0.2">2.5%</text>
<text x="102.42" y="544.01" font-size="7.8" font-weight="bold" text-anchor="middle" fill="#2a2a2a" stroke="#2a2a2a" stroke-width="0.2">3.2%</text>
<text x="145.94" y="684.34" font-size="7.8" font-weight="bold" text-anchor="middle" fill="#ffffff" stroke="#ffffff" stroke-width="0.2">16.2%</text>
<text x="145.94" y="601.2" font-size="7.8" font-weight="bold" text-anchor="middle" fill="#2a2a2a" stroke="#2a2a2a" stroke-width="0.2">69.5%</text>
<text x="145.94" y="531.36" font-size="7.8" font-weight="bold" text-anchor="middle" fill="#2a2a2a" stroke="#2a2a2a" stroke-width="0.2">2.5%</text>
<text x="145.94" y="517.49" font-size="7.8" font-weight="bold" text-anchor="middle" fill="#2a2a2a" stroke="#2a2a2a" stroke-width="0.2">11.8%</text>
<text x="189.46" y="670.95" font-size="7.8" font-weight="bold" text-anchor="middle" fill="#ffffff" stroke="#ffffff" stroke-width="0.2">36.7%</text>
<text x="189.46" y="613.15" font-size="7.8" font-weight="bold" text-anchor="middle" fill="#2a2a2a" stroke="#2a2a2a" stroke-width="0.2">36.2%</text>
<text x="189.46" y="582.39" font-size="7.8" font-weight="bold" text-anchor="middle" fill="#2a2a2a" stroke="#2a2a2a" stroke-width="0.2">2.6%</text>
<text x="189.46" y="560.9" font-size="7.8" font-weight="bold" text-anchor="middle" fill="#2a2a2a" stroke="#2a2a2a" stroke-width="0.2">24.5%</text>
<text x="232.98" y="648.04" font-size="7.8" font-weight="bold" text-anchor="middle" fill="#ffffff" stroke="#ffffff" stroke-width="0.2">65.6%</text>
<text x="232.98" y="593.88" font-size="7.8" font-weight="bold" text-anchor="middle" fill="#2a2a2a" stroke="#2a2a2a" stroke-width="0.2">2.7%</text>
<text x="232.98" y="566.61" font-size="7.8" font-weight="bold" text-anchor="middle" fill="#2a2a2a" stroke="#2a2a2a" stroke-width="0.2">31.7%</text>
<text x="276.5" y="647.83" font-size="7.8" font-weight="bold" text-anchor="middle" fill="#ffffff" stroke="#ffffff" stroke-width="0.2">61.3%</text>
<text x="276.5" y="593.22" font-size="7.8" font-weight="bold" text-anchor="middle" fill="#2a2a2a" stroke="#2a2a2a" stroke-width="0.2">2.8%</text>
<text x="276.5" y="560.25" font-size="7.8" font-weight="bold" text-anchor="middle" fill="#2a2a2a" stroke="#2a2a2a" stroke-width="0.2">35.9%</text>
<text x="320.02" y="648.63" font-size="7.8" font-weight="bold" text-anchor="middle" fill="#ffffff" stroke="#ffffff" stroke-width="0.2">62.2%</text>
<text x="320.02" y="594.82" font-size="7.8" font-weight="bold" text-anchor="middle" fill="#2a2a2a" stroke="#2a2a2a" stroke-width="0.2">2.9%</text>
<text x="320.02" y="563.57" font-size="7.8" font-weight="bold" text-anchor="middle" fill="#2a2a2a" stroke="#2a2a2a" stroke-width="0.2">34.9%</text>
<text x="363.54" y="649.16" font-size="7.8" font-weight="bold" text-anchor="middle" fill="#ffffff" stroke="#ffffff" stroke-width="0.2">62.2%</text>
<text x="363.54" y="595.81" font-size="7.8" font-weight="bold" text-anchor="middle" fill="#2a2a2a" stroke="#2a2a2a" stroke-width="0.2">3%</text>
<text x="363.54" y="564.88" font-size="7.8" font-weight="bold" text-anchor="middle" fill="#2a2a2a" stroke="#2a2a2a" stroke-width="0.2">34.8%</text>
<text x="407.06" y="649.23" font-size="7.8" font-weight="bold" text-anchor="middle" fill="#ffffff" stroke="#ffffff" stroke-width="0.2">64.1%</text>
<text x="407.06" y="597.13" font-size="7.8" font-weight="bold" text-anchor="middle" fill="#2a2a2a" stroke="#2a2a2a" stroke-width="0.2">1.6%</text>
<text x="407.06" y="568.67" font-size="7.8" font-weight="bold" text-anchor="middle" fill="#2a2a2a" stroke="#2a2a2a" stroke-width="0.2">34.3%</text>
<text x="450.58" y="651.65" font-size="7.8" font-weight="bold" text-anchor="middle" fill="#ffffff" stroke="#ffffff" stroke-width="0.2">60.4%</text>
<text x="450.58" y="601.97" font-size="7.8" font-weight="bold" text-anchor="middle" fill="#2a2a2a" stroke="#2a2a2a" stroke-width="0.2">1.6%</text>
<text x="450.58" y="570.24" font-size="7.8" font-weight="bold" text-anchor="middle" fill="#2a2a2a" stroke="#2a2a2a" stroke-width="0.2">38%</text>
<text x="494.1" y="643.91" font-size="7.8" font-weight="bold" text-anchor="middle" fill="#ffffff" stroke="#ffffff" stroke-width="0.2">62.2%</text>
<text x="494.1" y="586.33" font-size="7.8" font-weight="bold" text-anchor="middle" fill="#2a2a2a" stroke="#2a2a2a" stroke-width="0.2">1.6%</text>
<text x="494.1" y="552.21" font-size="7.8" font-weight="bold" text-anchor="middle" fill="#2a2a2a" stroke="#2a2a2a" stroke-width="0.2">36.2%</text>
<line x1="35.3" y1="906.73" x2="517.8" y2="906.73" stroke="#e2e2e2" stroke-width="1"/>
<line x1="35.3" y1="889.86" x2="517.8" y2="889.86" stroke="#e2e2e2" stroke-width="1"/>
<line x1="35.3" y1="872.99" x2="517.8" y2="872.99" stroke="#e2e2e2" stroke-width="1"/>
<line x1="35.3" y1="856.12" x2="517.8" y2="856.12" stroke="#e2e2e2" stroke-width="1"/>
<line x1="35.3" y1="839.25" x2="517.8" y2="839.25" stroke="#e2e2e2" stroke-width="1"/>
<line x1="35.3" y1="822.38" x2="517.8" y2="822.38" stroke="#e2e2e2" stroke-width="1"/>
<line x1="35.3" y1="805.51" x2="517.8" y2="805.51" stroke="#e2e2e2" stroke-width="1"/>
<line x1="35.3" y1="788.64" x2="517.8" y2="788.64" stroke="#e2e2e2" stroke-width="1"/>
<line x1="35.3" y1="771.77" x2="517.8" y2="771.77" stroke="#e2e2e2" stroke-width="1"/>
<line x1="35.3" y1="754.9" x2="517.8" y2="754.9" stroke="#e2e2e2" stroke-width="1"/>
<line x1="35.3" y1="738.03" x2="517.8" y2="738.03" stroke="#e2e2e2" stroke-width="1"/>
<line x1="35.3" y1="721.16" x2="517.8" y2="721.16" stroke="#e2e2e2" stroke-width="1"/>
<line x1="35.3" y1="704.29" x2="517.8" y2="704.29" stroke="#e2e2e2" stroke-width="1"/>
<rect x="34.6" y="697.88" width="483.9" height="225.72" fill="none" stroke="#959595" stroke-width="1.3"/>
<line x1="30" y1="923.6" x2="34.6" y2="923.6" stroke="#666" stroke-width="1.1"/>
<text x="28" y="926.8" font-size="7.3" text-anchor="end" fill="#222" stroke="#222" stroke-width="0.2">0</text>
<line x1="30" y1="906.73" x2="34.6" y2="906.73" stroke="#666" stroke-width="1.1"/>
<text x="28" y="909.93" font-size="7.3" text-anchor="end" fill="#222" stroke="#222" stroke-width="0.2">1</text>
<line x1="30" y1="889.86" x2="34.6" y2="889.86" stroke="#666" stroke-width="1.1"/>
<text x="28" y="893.06" font-size="7.3" text-anchor="end" fill="#222" stroke="#222" stroke-width="0.2">2</text>
<line x1="30" y1="872.99" x2="34.6" y2="872.99" stroke="#666" stroke-width="1.1"/>
<text x="28" y="876.19" font-size="7.3" text-anchor="end" fill="#222" stroke="#222" stroke-width="0.2">3</text>
<line x1="30" y1="856.12" x2="34.6" y2="856.12" stroke="#666" stroke-width="1.1"/>
<text x="28" y="859.32" font-size="7.3" text-anchor="end" fill="#222" stroke="#222" stroke-width="0.2">4</text>
<line x1="30" y1="839.25" x2="34.6" y2="839.25" stroke="#666" stroke-width="1.1"/>
<text x="28" y="842.45" font-size="7.3" text-anchor="end" fill="#222" stroke="#222" stroke-width="0.2">5</text>
<line x1="30" y1="822.38" x2="34.6" y2="822.38" stroke="#666" stroke-width="1.1"/>
<text x="28" y="825.58" font-size="7.3" text-anchor="end" fill="#222" stroke="#222" stroke-width="0.2">6</text>
<line x1="30" y1="805.51" x2="34.6" y2="805.51" stroke="#666" stroke-width="1.1"/>
<text x="28" y="808.71" font-size="7.3" text-anchor="end" fill="#222" stroke="#222" stroke-width="0.2">7</text>
<line x1="30" y1="788.64" x2="34.6" y2="788.64" stroke="#666" stroke-width="1.1"/>
<text x="28" y="791.84" font-size="7.3" text-anchor="end" fill="#222" stroke="#222" stroke-width="0.2">8</text>
<line x1="30" y1="771.77" x2="34.6" y2="771.77" stroke="#666" stroke-width="1.1"/>
<text x="28" y="774.97" font-size="7.3" text-anchor="end" fill="#222" stroke="#222" stroke-width="0.2">9</text>
<line x1="30" y1="754.9" x2="34.6" y2="754.9" stroke="#666" stroke-width="1.1"/>
<text x="28" y="758.1" font-size="7.3" text-anchor="end" fill="#222" stroke="#222" stroke-width="0.2">10</text>
<line x1="30" y1="738.03" x2="34.6" y2="738.03" stroke="#666" stroke-width="1.1"/>
<text x="28" y="741.23" font-size="7.3" text-anchor="end" fill="#222" stroke="#222" stroke-width="0.2">11</text>
<line x1="30" y1="721.16" x2="34.6" y2="721.16" stroke="#666" stroke-width="1.1"/>
<text x="28" y="724.36" font-size="7.3" text-anchor="end" fill="#222" stroke="#222" stroke-width="0.2">12</text>
<line x1="30" y1="704.29" x2="34.6" y2="704.29" stroke="#666" stroke-width="1.1"/>
<text x="28" y="707.49" font-size="7.3" text-anchor="end" fill="#222" stroke="#222" stroke-width="0.2">13</text>
<text x="43.3" y="717.4" font-size="11.4" fill="#222" stroke="#222" stroke-width="0.25" textLength="38.0" lengthAdjust="spacingAndGlyphs">Subject</text>
<text x="86.0" y="717.4" font-size="11.4" fill="#222" stroke="#222" stroke-width="0.25" textLength="38.9" lengthAdjust="spacingAndGlyphs">103-003</text>
<rect x="48" y="878.42" width="21.8" height="45.18" fill="#365b6d"/>
<rect x="48" y="758.01" width="21.8" height="120.42" fill="#969c74"/>
<rect x="48" y="752.27" width="21.8" height="5.73" fill="#f5d744"/>
<rect x="48" y="749.84" width="21.8" height="2.43" fill="#ef5670"/>
<rect x="48.3" y="750.14" width="21.2" height="173.46" fill="none" stroke="rgba(0,0,0,0.12)" stroke-width="0.6"/>
<text x="58.9" y="748.04" font-size="7.9" font-weight="bold" text-anchor="middle" fill="#1a1a1a" stroke="#1a1a1a" stroke-width="0.2">10.3</text>
<rect x="91.52" y="917.64" width="21.8" height="5.96" fill="#365b6d"/>
<rect x="91.52" y="759.52" width="21.8" height="158.12" fill="#969c74"/>
<rect x="91.52" y="755.43" width="21.8" height="4.09" fill="#f5d744"/>
<rect x="91.52" y="753.21" width="21.8" height="2.22" fill="#ef5670"/>
<rect x="91.82" y="753.51" width="21.2" height="170.09" fill="none" stroke="rgba(0,0,0,0.12)" stroke-width="0.6"/>
<text x="102.42" y="751.41" font-size="7.9" font-weight="bold" text-anchor="middle" fill="#1a1a1a" stroke="#1a1a1a" stroke-width="0.2">10.1</text>
<rect x="135.04" y="881.72" width="21.8" height="41.88" fill="#365b6d"/>
<rect x="135.04" y="771.25" width="21.8" height="110.47" fill="#969c74"/>
<rect x="135.04" y="767.46" width="21.8" height="3.79" fill="#f5d744"/>
<rect x="135.04" y="743.09" width="21.8" height="24.37" fill="#ef5670"/>
<rect x="135.34" y="743.39" width="21.2" height="180.21" fill="none" stroke="rgba(0,0,0,0.12)" stroke-width="0.6"/>
<text x="145.94" y="741.29" font-size="7.9" font-weight="bold" text-anchor="middle" fill="#1a1a1a" stroke="#1a1a1a" stroke-width="0.2">10.7</text>
<rect x="178.56" y="852.72" width="21.8" height="70.88" fill="#365b6d"/>
<rect x="178.56" y="799.03" width="21.8" height="53.69" fill="#969c74"/>
<rect x="178.56" y="795.87" width="21.8" height="3.16" fill="#f5d744"/>
<rect x="178.56" y="748.15" width="21.8" height="47.72" fill="#ef5670"/>
<rect x="178.86" y="748.45" width="21.2" height="175.15" fill="none" stroke="rgba(0,0,0,0.12)" stroke-width="0.6"/>
<text x="189.46" y="746.35" font-size="7.9" font-weight="bold" text-anchor="middle" fill="#1a1a1a" stroke="#1a1a1a" stroke-width="0.2">10.4</text>
<rect x="222.08" y="808.55" width="21.8" height="115.05" fill="#365b6d"/>
<rect x="222.08" y="805.21" width="21.8" height="3.34" fill="#f5d744"/>
<rect x="222.08" y="738.03" width="21.8" height="67.18" fill="#ef5670"/>
<rect x="222.38" y="738.33" width="21.2" height="185.27" fill="none" stroke="rgba(0,0,0,0.12)" stroke-width="0.6"/>
<text x="232.98" y="736.23" font-size="7.9" font-weight="bold" text-anchor="middle" fill="#1a1a1a" stroke="#1a1a1a" stroke-width="0.2">11.0</text>
<rect x="265.6" y="785.41" width="21.8" height="138.19" fill="#365b6d"/>
<rect x="265.6" y="781.34" width="21.8" height="4.07" fill="#969c74"/>
<rect x="265.6" y="777.05" width="21.8" height="4.28" fill="#f5d744"/>
<rect x="265.6" y="709.35" width="21.8" height="67.7" fill="#ef5670"/>
<rect x="265.9" y="709.65" width="21.2" height="213.95" fill="none" stroke="rgba(0,0,0,0.12)" stroke-width="0.6"/>
<text x="276.5" y="707.55" font-size="7.9" font-weight="bold" text-anchor="middle" fill="#1a1a1a" stroke="#1a1a1a" stroke-width="0.2">12.7</text>
<rect x="309.12" y="795.87" width="21.8" height="127.73" fill="#365b6d"/>
<rect x="309.12" y="791.91" width="21.8" height="3.97" fill="#f5d744"/>
<rect x="309.12" y="734.66" width="21.8" height="57.25" fill="#ef5670"/>
<rect x="309.42" y="734.96" width="21.2" height="188.64" fill="none" stroke="rgba(0,0,0,0.12)" stroke-width="0.6"/>
<text x="320.02" y="732.86" font-size="7.9" font-weight="bold" text-anchor="middle" fill="#1a1a1a" stroke="#1a1a1a" stroke-width="0.2">11.2</text>
<line x1="34.6" y1="697.88" x2="34.6" y2="924.2" stroke="#777" stroke-width="1.3"/>
<line x1="34.6" y1="923.6" x2="518.5" y2="923.6" stroke="#777" stroke-width="1.1"/>
<text x="58.9" y="903.76" font-size="7.8" font-weight="bold" text-anchor="middle" fill="#ffffff" stroke="#ffffff" stroke-width="0.2">26%</text>
<text x="58.9" y="820.96" font-size="7.8" font-weight="bold" text-anchor="middle" fill="#2a2a2a" stroke="#2a2a2a" stroke-width="0.2">69.3%</text>
<text x="58.9" y="757.89" font-size="7.8" font-weight="bold" text-anchor="middle" fill="#2a2a2a" stroke="#2a2a2a" stroke-width="0.2">3.3%</text>
<text x="58.9" y="753.81" font-size="7.8" font-weight="bold" text-anchor="middle" fill="#2a2a2a" stroke="#2a2a2a" stroke-width="0.2">1.4%</text>
<text x="102.42" y="923.37" font-size="7.8" font-weight="bold" text-anchor="middle" fill="#ffffff" stroke="#ffffff" stroke-width="0.2">3.5%</text>
<text x="102.42" y="841.33" font-size="7.8" font-weight="bold" text-anchor="middle" fill="#2a2a2a" stroke="#2a2a2a" stroke-width="0.2">92.8%</text>
<text x="102.42" y="760.22" font-size="7.8" font-weight="bold" text-anchor="middle" fill="#2a2a2a" stroke="#2a2a2a" stroke-width="0.2">2.4%</text>
<text x="102.42" y="757.07" font-size="7.8" font-weight="bold" text-anchor="middle" fill="#2a2a2a" stroke="#2a2a2a" stroke-width="0.2">1.3%</text>
<text x="145.94" y="905.41" font-size="7.8" font-weight="bold" text-anchor="middle" fill="#ffffff" stroke="#ffffff" stroke-width="0.2">23.2%</text>
<text x="145.94" y="829.24" font-size="7.8" font-weight="bold" text-anchor="middle" fill="#2a2a2a" stroke="#2a2a2a" stroke-width="0.2">61.2%</text>
<text x="145.94" y="772.11" font-size="7.8" font-weight="bold" text-anchor="middle" fill="#2a2a2a" stroke="#2a2a2a" stroke-width="0.2">2.1%</text>
<text x="145.94" y="758.03" font-size="7.8" font-weight="bold" text-anchor="middle" fill="#2a2a2a" stroke="#2a2a2a" stroke-width="0.2">13.5%</text>
<text x="189.46" y="890.91" font-size="7.8" font-weight="bold" text-anchor="middle" fill="#ffffff" stroke="#ffffff" stroke-width="0.2">40.4%</text>
<text x="189.46" y="828.63" font-size="7.8" font-weight="bold" text-anchor="middle" fill="#2a2a2a" stroke="#2a2a2a" stroke-width="0.2">30.6%</text>
<text x="189.46" y="800.2" font-size="7.8" font-weight="bold" text-anchor="middle" fill="#2a2a2a" stroke="#2a2a2a" stroke-width="0.2">1.8%</text>
<text x="189.46" y="774.76" font-size="7.8" font-weight="bold" text-anchor="middle" fill="#2a2a2a" stroke="#2a2a2a" stroke-width="0.2">27.2%</text>
<text x="232.98" y="868.82" font-size="7.8" font-weight="bold" text-anchor="middle" fill="#ffffff" stroke="#ffffff" stroke-width="0.2">62%</text>
<text x="232.98" y="809.63" font-size="7.8" font-weight="bold" text-anchor="middle" fill="#2a2a2a" stroke="#2a2a2a" stroke-width="0.2">1.8%</text>
<text x="232.98" y="774.37" font-size="7.8" font-weight="bold" text-anchor="middle" fill="#2a2a2a" stroke="#2a2a2a" stroke-width="0.2">36.2%</text>
<text x="276.5" y="857.25" font-size="7.8" font-weight="bold" text-anchor="middle" fill="#ffffff" stroke="#ffffff" stroke-width="0.2">64.5%</text>
<text x="276.5" y="786.12" font-size="7.8" font-weight="bold" text-anchor="middle" fill="#2a2a2a" stroke="#2a2a2a" stroke-width="0.2">1.9%</text>
<text x="276.5" y="781.95" font-size="7.8" font-weight="bold" text-anchor="middle" fill="#2a2a2a" stroke="#2a2a2a" stroke-width="0.2">2%</text>
<text x="276.5" y="745.95" font-size="7.8" font-weight="bold" text-anchor="middle" fill="#2a2a2a" stroke="#2a2a2a" stroke-width="0.2">31.6%</text>
<text x="320.02" y="862.49" font-size="7.8" font-weight="bold" text-anchor="middle" fill="#ffffff" stroke="#ffffff" stroke-width="0.2">67.6%</text>
<text x="320.02" y="796.64" font-size="7.8" font-weight="bold" text-anchor="middle" fill="#2a2a2a" stroke="#2a2a2a" stroke-width="0.2">2.1%</text>
<text x="320.02" y="766.03" font-size="7.8" font-weight="bold" text-anchor="middle" fill="#2a2a2a" stroke="#2a2a2a" stroke-width="0.2">30.3%</text>
<line x1="82.3" y1="46.8" x2="82.3" y2="939.5" stroke="#1a1a1a" stroke-width="1.5" stroke-dasharray="6 5.986"/>
<rect x="454.6" y="82" width="44.2" height="53.8" fill="#fff" stroke="#8a8a8a" stroke-width="1"/>
<rect x="461.3" y="89.5" width="5.5" height="5.5" fill="#ef5670" stroke="rgba(0,0,0,0.28)" stroke-width="0.6"/>
<text x="470.6" y="95.4" font-size="8.8" font-family="Liberation Serif, serif" fill="#333">HbF</text>
<rect x="461.3" y="101.4" width="5.5" height="5.5" fill="#f5d744" stroke="rgba(0,0,0,0.28)" stroke-width="0.6"/>
<text x="470.6" y="107.3" font-size="8.8" font-family="Liberation Serif, serif" fill="#333">HbA2</text>
<rect x="461.3" y="113.3" width="5.5" height="5.5" fill="#969c74" stroke="rgba(0,0,0,0.28)" stroke-width="0.6"/>
<text x="470.6" y="119.2" font-size="8.8" font-family="Liberation Serif, serif" fill="#333">HbA</text>
<rect x="461.3" y="125.2" width="5.5" height="5.5" fill="#365b6d" stroke="rgba(0,0,0,0.28)" stroke-width="0.6"/>
<text x="470.6" y="131.1" font-size="8.8" font-family="Liberation Serif, serif" fill="#333">HbS</text>
<text x="58.9" y="935" font-size="7.7" text-anchor="middle" fill="#1a1a1a" stroke="#1a1a1a" stroke-width="0.05">SCREENING</text>
<text x="102.42" y="935" font-size="7.7" text-anchor="middle" fill="#1a1a1a" stroke="#1a1a1a" stroke-width="0.05">DAY 29</text>
<text x="145.94" y="935" font-size="7.7" text-anchor="middle" fill="#1a1a1a" stroke="#1a1a1a" stroke-width="0.05">WEEK 8</text>
<text x="189.46" y="935" font-size="7.7" text-anchor="middle" fill="#1a1a1a" stroke="#1a1a1a" stroke-width="0.05">WEEK 13</text>
<text x="232.98" y="935" font-size="7.7" text-anchor="middle" fill="#1a1a1a" stroke="#1a1a1a" stroke-width="0.05">WEEK 26</text>
<text x="276.5" y="935" font-size="7.7" text-anchor="middle" fill="#1a1a1a" stroke="#1a1a1a" stroke-width="0.05">WEEK 39</text>
<text x="320.02" y="935" font-size="7.7" text-anchor="middle" fill="#1a1a1a" stroke="#1a1a1a" stroke-width="0.05">WEEK 52</text>
<text x="363.54" y="935" font-size="7.7" text-anchor="middle" fill="#1a1a1a" stroke="#1a1a1a" stroke-width="0.05">WEEK 65</text>
<text x="407.06" y="935" font-size="7.7" text-anchor="middle" fill="#1a1a1a" stroke="#1a1a1a" stroke-width="0.05">WEEK 78</text>
<text x="450.58" y="935" font-size="7.7" text-anchor="middle" fill="#1a1a1a" stroke="#1a1a1a" stroke-width="0.05">WEEK 91</text>
<text x="494.1" y="935" font-size="7.7" text-anchor="middle" fill="#1a1a1a" stroke="#1a1a1a" stroke-width="0.05">WEEK 104</text>
<text x="68.5" y="951.2" font-size="9" font-weight="bold" fill="#1a1a1a" textLength="35" lengthAdjust="spacingAndGlyphs">Infusion</text>
<text x="182.3" y="955" font-size="10.2" font-weight="bold" fill="#1a1a1a" textLength="157.7" lengthAdjust="spacingAndGlyphs">Time since BIVV003 infusion</text>
<text x="57.8" y="972.5" font-size="8.6" fill="#1a1a1a" stroke="#1a1a1a" stroke-width="0.12" textLength="429.5" lengthAdjust="spacingAndGlyphs">HbA= Adult hemoglobin, HbA2= Variant adult hemoglobin, HbF= Fetal hemoglobin, HbS= Sickle hemoglobin</text>
<text x="-25.7" y="0" font-size="10.8" font-weight="bold" fill="#1a1a1a" transform="translate(9.6 480) rotate(-90)" textLength="51.4" lengthAdjust="spacingAndGlyphs">Hb (g/dL)</text>
</svg></body></html>
